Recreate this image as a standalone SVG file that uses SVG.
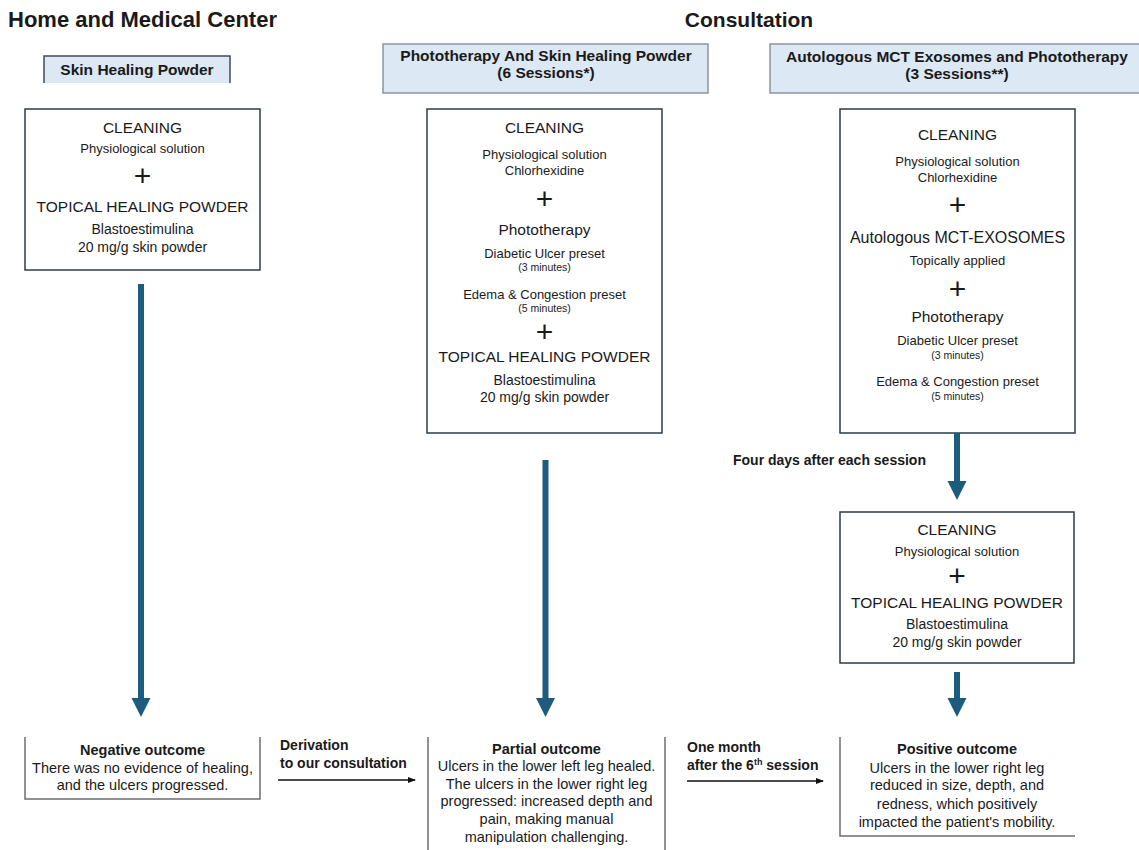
<svg xmlns="http://www.w3.org/2000/svg" width="1139" height="850" viewBox="0 0 1139 850">
<defs>
<style>
text{font-family:"Liberation Sans",Arial,sans-serif;fill:#1a1a1a;}
.title{font-size:21px;font-weight:bold;}
.hdr{font-size:15.5px;font-weight:bold;text-anchor:middle;}
.big{font-size:15.5px;text-anchor:middle;}
.sub{font-size:13px;text-anchor:middle;}
.mid{font-size:14px;text-anchor:middle;}
.tiny{font-size:10.5px;text-anchor:middle;}
.plus{font-size:30px;text-anchor:middle;}
.ot{font-size:14.5px;font-weight:bold;text-anchor:middle;}
.ob{font-size:14.5px;text-anchor:middle;}
.lbl{font-size:14px;font-weight:bold;}
.box{fill:#fff;stroke:#2e3b46;stroke-width:1.5;}
.hbox{fill:#dce8f4;}
.hline{fill:none;stroke:#8a95a0;stroke-width:1.5;}
.oline{fill:none;stroke:#6e6e6e;stroke-width:1.5;}
.thick{stroke:#1c5d7e;stroke-width:6;fill:none;}
.thin{stroke:#111;stroke-width:1.5;fill:none;}
</style>
<marker id="bighead" markerUnits="userSpaceOnUse" markerWidth="20" markerHeight="20" viewBox="0 0 20 20" refX="9" refY="10" orient="auto">
<path d="M0,0.5 L19,10 L0,19.5 z" fill="#1c5d7e"/>
</marker>
<marker id="smallhead" markerUnits="userSpaceOnUse" markerWidth="8" markerHeight="8" viewBox="0 0 8 8" refX="7" refY="4" orient="auto">
<path d="M0,1 L8,4 L0,7 z" fill="#111"/>
</marker>
</defs>
<rect width="1139" height="850" fill="#fff"/>

<g id="titles">
<text class="title" x="8" y="27" style="font-size:22px">Home and Medical Center</text>
<text class="title" x="749" y="27" text-anchor="middle">Consultation</text>
</g>

<g id="header1">
<rect class="hbox" x="44" y="56" width="186" height="27"/>
<path d="M44,83 V56 H230 V83" fill="none" stroke="#404b56" stroke-width="1.5"/>
<text class="hdr" x="137" y="75">Skin Healing Powder</text>
</g>

<g id="header2">
<rect class="hbox" x="383" y="44" width="325" height="49"/>
<rect class="hline" x="383" y="44" width="325" height="49"/>
<text class="hdr" x="546" y="61">Phototherapy And Skin Healing Powder</text>
<text class="hdr" x="546" y="78">(6 Sessions*)</text>
</g>

<g id="header3">
<rect class="hbox" x="770" y="44" width="372" height="49"/>
<rect class="hline" x="770" y="44" width="372" height="49"/>
<text class="hdr" x="957" y="62">Autologous MCT Exosomes and Phototherapy</text>
<text class="hdr" x="957" y="79">(3 Sessions**)</text>
</g>

<g id="box1">
<rect class="box" x="25" y="109" width="235" height="161"/>
<text class="big" x="142.5" y="133">CLEANING</text>
<text class="sub" x="142.5" y="153">Physiological solution</text>
<text class="plus" x="142.5" y="186">+</text>
<text class="big" x="142.5" y="212">TOPICAL HEALING POWDER</text>
<text class="mid" x="142.5" y="234">Blastoestimulina</text>
<text class="mid" x="142.5" y="252">20 mg/g skin powder</text>
</g>

<g id="box2">
<rect class="box" x="427" y="109" width="235" height="324"/>
<text class="big" x="544.5" y="133">CLEANING</text>
<text class="sub" x="544.5" y="159">Physiological solution</text>
<text class="sub" x="544.5" y="175">Chlorhexidine</text>
<text class="plus" x="544.5" y="209">+</text>
<text class="big" x="544.5" y="235">Phototherapy</text>
<text class="sub" x="544.5" y="258">Diabetic Ulcer preset</text>
<text class="tiny" x="544.5" y="271">(3 minutes)</text>
<text class="sub" x="544.5" y="299">Edema &amp; Congestion preset</text>
<text class="tiny" x="544.5" y="312">(5 minutes)</text>
<text class="plus" x="544.5" y="342">+</text>
<text class="big" x="544.5" y="362">TOPICAL HEALING POWDER</text>
<text class="mid" x="544.5" y="385">Blastoestimulina</text>
<text class="mid" x="544.5" y="402">20 mg/g skin powder</text>
</g>

<g id="box3">
<rect class="box" x="840" y="109" width="235" height="324"/>
<text class="big" x="957.5" y="140">CLEANING</text>
<text class="sub" x="957.5" y="166">Physiological solution</text>
<text class="sub" x="957.5" y="182">Chlorhexidine</text>
<text class="plus" x="957.5" y="215">+</text>
<text class="big" x="957.5" y="243" style="font-size:16px">Autologous MCT-EXOSOMES</text>
<text class="sub" x="957.5" y="265">Topically applied</text>
<text class="plus" x="957.5" y="299">+</text>
<text class="big" x="957.5" y="322">Phototherapy</text>
<text class="sub" x="957.5" y="345">Diabetic Ulcer preset</text>
<text class="tiny" x="957.5" y="359">(3 minutes)</text>
<text class="sub" x="957.5" y="386">Edema &amp; Congestion preset</text>
<text class="tiny" x="957.5" y="400">(5 minutes)</text>
</g>

<g id="box4">
<rect class="box" x="840" y="512" width="234" height="151"/>
<text class="big" x="957" y="535">CLEANING</text>
<text class="sub" x="957" y="556">Physiological solution</text>
<text class="plus" x="957" y="586">+</text>
<text class="big" x="957" y="608">TOPICAL HEALING POWDER</text>
<text class="mid" x="957" y="629">Blastoestimulina</text>
<text class="mid" x="957" y="647">20 mg/g skin powder</text>
</g>

<g id="outcome-negative">
<path class="oline" d="M25,737 V799 H260 V737"/>
<text class="ot" x="142.5" y="755">Negative outcome</text>
<text class="ob" x="142.5" y="773">There was no evidence of healing,</text>
<text class="ob" x="142.5" y="790">and the ulcers progressed.</text>
</g>

<g id="outcome-partial">
<path class="oline" d="M428,737 V850 M665,737 V850"/>
<text class="ot" x="546.5" y="754">Partial outcome</text>
<text class="ob" x="546.5" y="771">Ulcers in the lower left leg healed.</text>
<text class="ob" x="546.5" y="789">The ulcers in the lower right leg</text>
<text class="ob" x="546.5" y="806">progressed: increased depth and</text>
<text class="ob" x="546.5" y="824">pain, making manual</text>
<text class="ob" x="546.5" y="842">manipulation challenging.</text>
</g>

<g id="outcome-positive">
<path class="oline" d="M840,737 V836 H1075"/>
<text class="ot" x="957" y="754">Positive outcome</text>
<text class="ob" x="957" y="773">Ulcers in the lower right leg</text>
<text class="ob" x="957" y="790">reduced in size, depth, and</text>
<text class="ob" x="957" y="809">redness, which positively</text>
<text class="ob" x="957" y="827">impacted the patient's mobility.</text>
</g>

<g id="connectors">
<line class="thick" x1="141" y1="284" x2="141" y2="707" marker-end="url(#bighead)"/>
<line class="thick" x1="545.5" y1="460" x2="545.5" y2="707" marker-end="url(#bighead)"/>
<line class="thick" x1="957" y1="433" x2="957" y2="490" marker-end="url(#bighead)"/>
<line class="thick" x1="957" y1="672" x2="957" y2="707" marker-end="url(#bighead)"/>
<line class="thin" x1="278" y1="780" x2="415" y2="780" marker-end="url(#smallhead)"/>
<line class="thin" x1="687" y1="781" x2="823" y2="781" marker-end="url(#smallhead)"/>
</g>

<g id="connector-labels">
<text class="lbl" x="733" y="465">Four days after each session</text>
<text class="lbl" x="280" y="750">Derivation</text>
<text class="lbl" x="280" y="768">to our consultation</text>
<text class="lbl" x="687" y="752">One month</text>
<text class="lbl" x="687" y="770">after the 6<tspan dy="-5" style="font-size:9px">th</tspan><tspan dy="5"> session</tspan></text>
</g>
</svg>
